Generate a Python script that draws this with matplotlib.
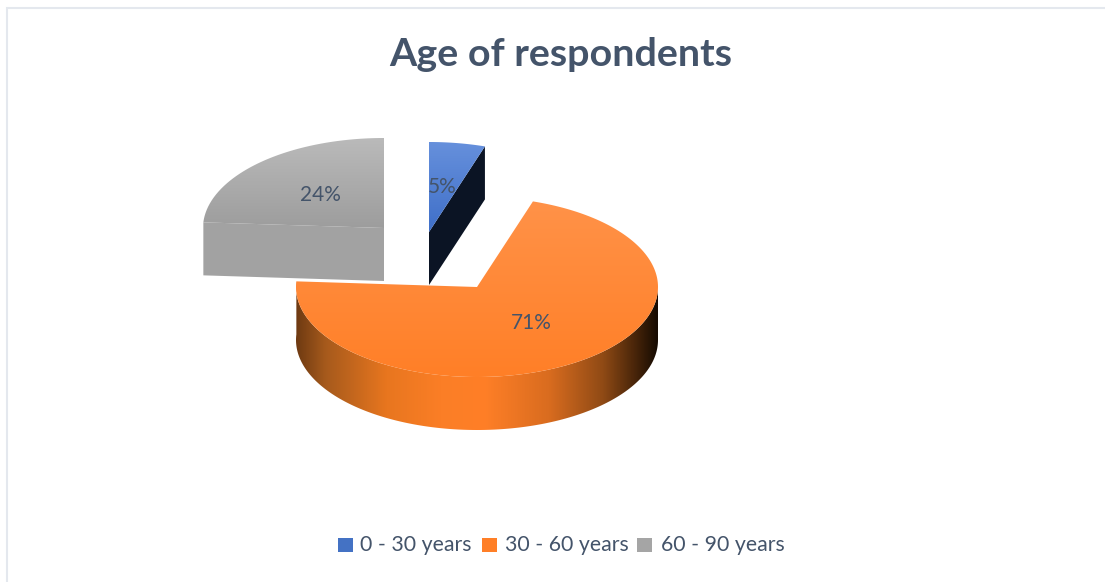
import numpy as np
import matplotlib
matplotlib.use("Agg")
import matplotlib.pyplot as plt
from matplotlib.colors import LinearSegmentedColormap
from matplotlib.patches import Polygon, Rectangle

title = "Age of respondents"
categories = ["0 - 30 years", "30 - 60 years", "60 - 90 years"]
shares = [5, 71, 24]

TEXT = "#44546a"
RX, RY, DEPTH = 181, 90, 53
# exploded slice centres, in pixels
centres = [(429, 232), (477, 287), (384, 228)]
top_colors = [("#6690dc", "#3f6fc8"), ("#ff9248", "#ff7f27"), ("#bababa", "#9d9d9d")]
legend_colors = ["#4472c4", "#ff7f27", "#a5a5a5"]
label_pos = [(442, 187), (531, 323), (320, 195)]
legend_x = [338, 482, 637]
legend_text_x = [360, 505, 661]


def rim(cx, cy, a0, a1, n=200):
    # angles in degrees, clockwise from twelve o'clock
    t = np.radians(np.linspace(a0, a1, n))
    return np.column_stack([cx + RX * np.sin(t), cy - RY * np.cos(t)])


def gradient_fill(ax, pts, cmap, vertical=True):
    # paint a gradient and clip it to the polygon
    x0, x1 = pts[:, 0].min(), pts[:, 0].max()
    y0, y1 = pts[:, 1].min(), pts[:, 1].max()
    g = np.linspace(0, 1, 256)
    g = g[:, None] if vertical else g[None, :]
    im = ax.imshow(g, cmap=cmap, extent=(x0, x1, y1, y0), aspect="auto", zorder=ax.zz, vmin=0, vmax=1)
    clip = Polygon(pts, closed=True, transform=ax.transData, fc="none", ec="none")
    ax.add_patch(clip)
    im.set_clip_path(clip)


fig = plt.figure(figsize=(11.05, 5.82), dpi=100)
ax = fig.add_axes([0, 0, 1, 1])
ax.axis("off")
ax.zz = 2

angles = np.cumsum([0] + shares) * 3.6
draw_order = [2, 0, 1]
for i in draw_order:
    cx, cy = centres[i]
    a0, a1 = angles[i], angles[i + 1]
    edge = rim(cx, cy, a0, a1)
    top = np.vstack([[cx, cy], edge])

    if i == 0:
        # the cut face turned towards the viewer
        p = edge[-1]
        ax.add_patch(Polygon([(cx, cy), p, (p[0], p[1] + DEPTH), (cx, cy + DEPTH)],
                             fc="#0b1424", ec="none", zorder=ax.zz))
    elif i == 2:
        p = edge[0]
        face = np.array([p, (cx, cy), (cx, cy + DEPTH), (p[0], p[1] + DEPTH)])
        ax.add_patch(Polygon(face, fc="#a2a2a2", ec="none", zorder=ax.zz))
    else:
        # front wall of the big slice, shaded across its width
        a_front = max(a0, 90)
        e = rim(cx, cy, a_front, a1)
        wall = np.vstack([e, e[::-1] + [0, DEPTH]])
        wall_cmap = LinearSegmentedColormap.from_list("wall", [
            (0.00, "#6e3a12"), (0.08, "#a65a1c"), (0.25, "#e8761f"), (0.40, "#fb7e26"),
            (0.52, "#ff7f27"), (0.70, "#d96c1f"), (0.85, "#8f4a15"), (0.95, "#3f2008"),
            (1.00, "#160b02")])
        gradient_fill(ax, wall, wall_cmap, vertical=False)

    ax.zz += 1
    cmap = LinearSegmentedColormap.from_list(f"top{i}", top_colors[i])
    gradient_fill(ax, top, cmap)
    ax.zz += 1

for i, share in enumerate(shares):
    ax.text(*label_pos[i], f"{share}%", color=TEXT, fontsize=15, family="Lato",
            ha="center", va="center", zorder=20)

ax.text(561, 55, title, color=TEXT, fontsize=28.4, family="Lato", weight="bold",
        ha="center", va="center")

for name, col, x, tx in zip(categories, legend_colors, legend_x, legend_text_x):
    ax.add_patch(Rectangle((x, 538), 15, 14, fc=col, ec="none"))
    ax.text(tx, 545, name, color=TEXT, fontsize=15.3, family="Lato", ha="left", va="center")

# thin chart frame along the top and left
ax.plot([7, 7, 1105], [582, 8, 8], color="#e4e8ee", lw=1.5, solid_joinstyle="miter")

ax.set_xlim(0, 1105)
ax.set_ylim(582, 0)
fig.savefig("out.png", dpi=100, facecolor="white")
